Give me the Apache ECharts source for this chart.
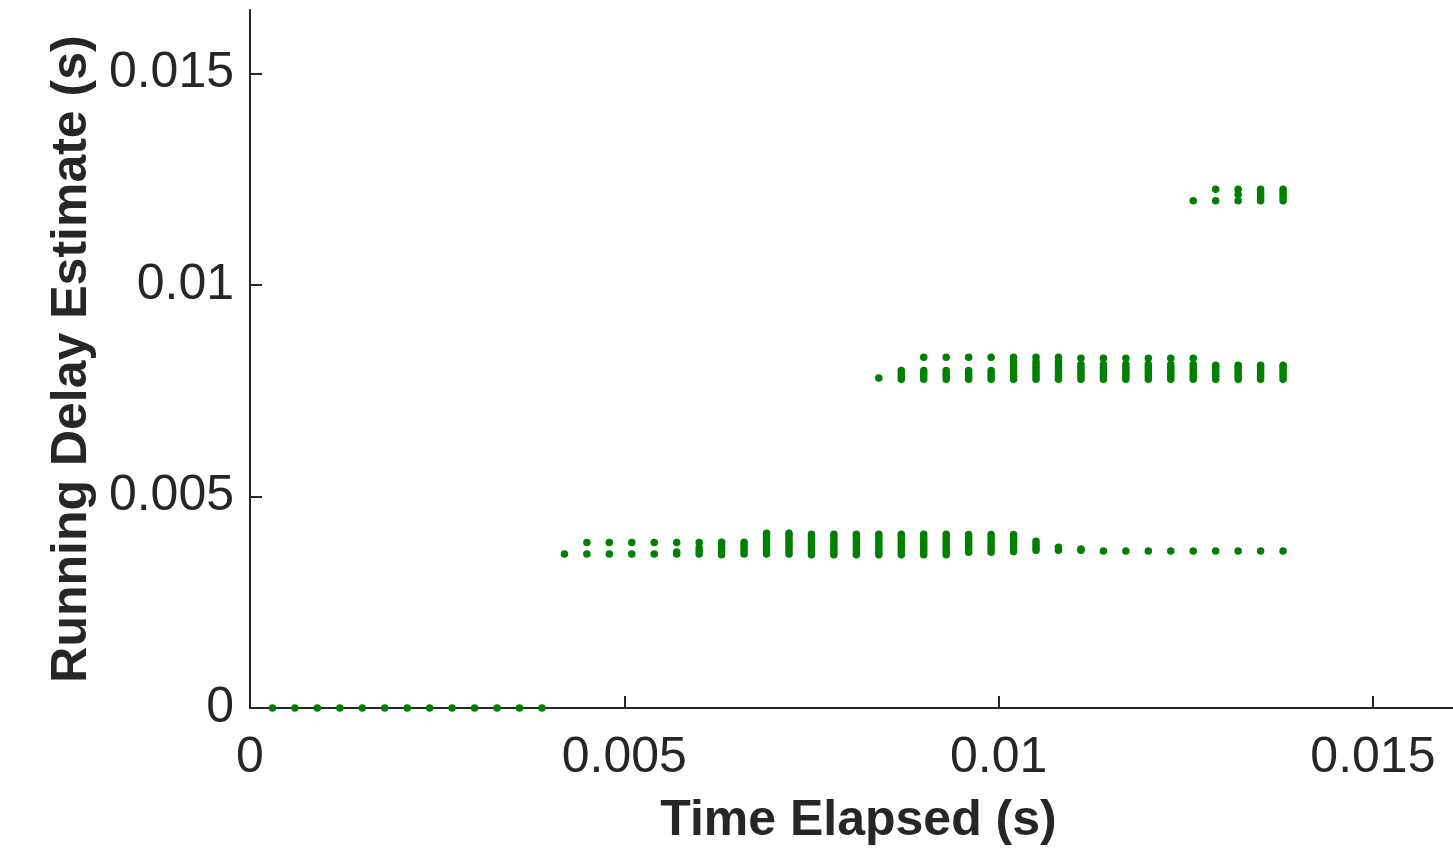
<!DOCTYPE html>
<html>
<head>
<meta charset="utf-8">
<script src="https://cdn.jsdelivr.net/npm/echarts@6/dist/echarts.min.js"></script>
<style>
  * { margin: 0; padding: 0; }
  #chart-container { width: 1453px; height: 848px; background: #fff; }
</style>
</head>
<body>
<div id="chart-container"></div>
<script>
// time steps (s), one per column of points
var timeSteps = [
  0.0003, 0.0006, 0.0009, 0.0012, 0.0015, 0.0018, 0.0021, 0.0024, 0.0027, 0.0030,
  0.0033, 0.0036, 0.0039, 0.0042, 0.0045, 0.0048, 0.0051, 0.0054, 0.0057, 0.0060,
  0.0063, 0.0066, 0.0069, 0.0072, 0.0075, 0.0078, 0.0081, 0.0084, 0.0087, 0.0090,
  0.0093, 0.0096, 0.0099, 0.0102, 0.0105, 0.0108, 0.0111, 0.0114, 0.0117, 0.0120,
  0.0123, 0.0126, 0.0129, 0.0132, 0.0135, 0.0138
]

// running delay estimates (s) seen at each time step
var delayEstimates = [
  [0], [0], [0], [0], [0], [0], [0], [0], [0], [0], [0], [0], [0],
  [0.00364],
  [0.00364, 0.00391],
  [0.00364, 0.00391],
  [0.00364, 0.00391],
  [0.00364, 0.00391],
  [0.00364, 0.00369, 0.00391],
  [0.00364, 0.00371, 0.00378, 0.00391],
  [0.00362, 0.0037, 0.00378, 0.00386, 0.00392],
  [0.00364, 0.00371, 0.00378, 0.00386, 0.00392],
  [0.00364, 0.00371, 0.00378, 0.00386, 0.00393, 0.004, 0.00407, 0.00413],
  [0.00364, 0.00371, 0.00378, 0.00386, 0.00393, 0.004, 0.00407, 0.00413],
  [0.00362, 0.00369, 0.00376, 0.00383, 0.0039, 0.00397, 0.00404, 0.00411],
  [0.00362, 0.00369, 0.00376, 0.00383, 0.0039, 0.00397, 0.00404, 0.00411],
  [0.00362, 0.00369, 0.00376, 0.00383, 0.0039, 0.00397, 0.00404, 0.00411],
  [0.00362, 0.00369, 0.00376, 0.00383, 0.0039, 0.00397, 0.00404, 0.00411, 0.0078],
  [0.00362, 0.00369, 0.00376, 0.00383, 0.0039, 0.00397, 0.00404, 0.00411,
    0.00777, 0.00784, 0.00791, 0.00798],
  [0.00362, 0.00369, 0.00376, 0.00383, 0.0039, 0.00397, 0.00404, 0.00411,
    0.00777, 0.00784, 0.00791, 0.00798, 0.00829],
  [0.00362, 0.00369, 0.00376, 0.00383, 0.0039, 0.00397, 0.00404, 0.00411,
    0.00777, 0.00784, 0.00791, 0.00798, 0.00829],
  [0.00368, 0.00375, 0.00382, 0.00389, 0.00396, 0.00403, 0.0041,
    0.00777, 0.00784, 0.00791, 0.00798, 0.00829],
  [0.00368, 0.00375, 0.00382, 0.00389, 0.00396, 0.00403, 0.0041,
    0.00777, 0.00784, 0.00791, 0.00798, 0.00829],
  [0.0037, 0.00377, 0.00384, 0.00391, 0.00398, 0.00405, 0.0041,
    0.00777, 0.00784, 0.00791, 0.00798, 0.00805, 0.00812, 0.00819, 0.00829],
  [0.00373, 0.0038, 0.00387, 0.00394,
    0.00777, 0.00784, 0.00791, 0.00798, 0.00805, 0.00812, 0.00819, 0.00829],
  [0.00373, 0.0038,
    0.00777, 0.00784, 0.00791, 0.00798, 0.00805, 0.00812, 0.00819, 0.00829],
  [0.00373, 0.00376,
    0.00777, 0.00784, 0.00791, 0.00798, 0.00805, 0.00812, 0.00827],
  [0.00371, 0.00777, 0.00784, 0.00791, 0.00798, 0.00805, 0.00812, 0.00827],
  [0.00371, 0.00777, 0.00784, 0.00791, 0.00798, 0.00805, 0.00812, 0.00827],
  [0.00371, 0.00777, 0.00784, 0.00791, 0.00798, 0.00805, 0.00812, 0.00827],
  [0.00371, 0.00777, 0.00784, 0.00791, 0.00798, 0.00805, 0.00812, 0.00827],
  [0.00371, 0.00777, 0.00784, 0.00791, 0.00798, 0.00805, 0.00812, 0.00827, 0.01199],
  [0.00371, 0.00777, 0.00784, 0.00791, 0.00798, 0.00805, 0.0081, 0.01199, 0.01226],
  [0.00371, 0.00777, 0.00784, 0.00791, 0.00798, 0.00805, 0.0081,
    0.01199, 0.01214, 0.01226],
  [0.00371, 0.00777, 0.00784, 0.00791, 0.00798, 0.00805, 0.0081,
    0.01199, 0.01206, 0.01213, 0.0122, 0.01226],
  [0.00371, 0.00777, 0.00784, 0.00791, 0.00798, 0.00805, 0.0081,
    0.01199, 0.01206, 0.01213, 0.0122, 0.01226]
]

var tickValues = [0, 0.005, 0.01, 0.015]

var points = []
timeSteps.forEach(function (t, i) {
  delayEstimates[i].forEach(function (d) {
    points.push([t, d])
  })
})

var axisColor = '#262626'
var fontFamily = '"Liberation Sans", Arial, Helvetica, sans-serif'

var myChart = echarts.init(document.getElementById('chart-container'), null, {
  renderer: 'canvas'
})

var option = {
  animation: false,
  backgroundColor: '#ffffff',
  grid: {
    left: 250,
    right: 0,
    top: 10,
    bottom: 140,
    containLabel: false,
    outerBoundsMode: 'none'
  },
  xAxis: {
    type: 'value',
    min: 0,
    max: 0.01607,
    name: 'Time Elapsed (s)',
    nameLocation: 'middle',
    nameGap: 88,
    nameTextStyle: {
      color: axisColor,
      fontFamily: fontFamily,
      fontWeight: 'bold',
      fontSize: 50,
      padding: [0, 0, 0, 14]
    },
    axisLine: { lineStyle: { color: axisColor, width: 2 } },
    axisTick: {
      show: true,
      inside: true,
      length: 12,
      customValues: tickValues,
      lineStyle: { color: axisColor, width: 2 }
    },
    axisLabel: {
      customValues: tickValues,
      margin: 25,
      color: axisColor,
      fontFamily: fontFamily,
      fontSize: 50,
      formatter: function (v) { return String(v) }
    },
    splitLine: { show: false }
  },
  yAxis: {
    type: 'value',
    min: 0,
    max: 0.0165,
    name: 'Running Delay Estimate (s)',
    nameLocation: 'middle',
    nameGap: 153,
    nameTextStyle: {
      color: axisColor,
      fontFamily: fontFamily,
      fontWeight: 'bold',
      fontSize: 50
    },
    axisLine: { show: true, lineStyle: { color: axisColor, width: 2 } },
    axisTick: {
      show: true,
      inside: true,
      length: 12,
      customValues: tickValues,
      lineStyle: { color: axisColor, width: 2 }
    },
    axisLabel: {
      customValues: tickValues,
      margin: 16,
      color: axisColor,
      fontFamily: fontFamily,
      fontSize: 50,
      formatter: function (v) { return String(v) }
    },
    splitLine: { show: false }
  },
  series: [
    {
      type: 'scatter',
      data: points,
      symbol: 'circle',
      symbolSize: 7.5,
      itemStyle: { color: '#008000', opacity: 1 },
      z: 3
    }
  ]
}

myChart.setOption(option)
window.addEventListener('resize', myChart.resize)
</script>
</body>
</html>
